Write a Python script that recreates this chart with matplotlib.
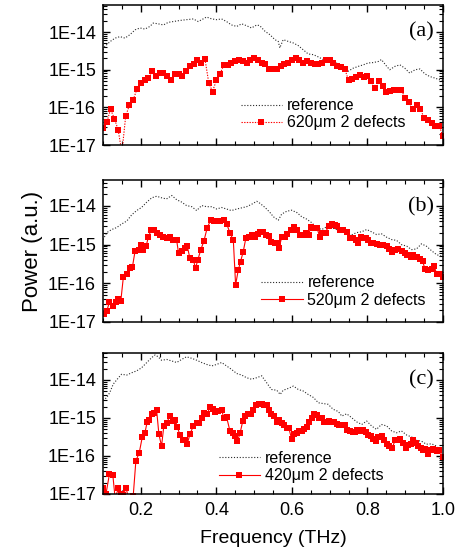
import numpy as np
import matplotlib
matplotlib.use('Agg')
import matplotlib.pyplot as plt
from matplotlib.ticker import LogLocator, FuncFormatter, MultipleLocator, NullFormatter, FixedLocator

plt.rcParams['font.family'] = ['Liberation Sans', 'DejaVu Sans']

# ---------------- data (log10 of power, a.u.) ----------------
# panel (a)
ref_a_f = [0.100, 0.105, 0.119, 0.132, 0.145, 0.158, 0.171, 0.185, 0.198, 0.211, 0.224, 0.233,
           0.246, 0.260, 0.273, 0.286, 0.304, 0.321, 0.339, 0.352, 0.365, 0.374, 0.388, 0.401,
           0.414, 0.427, 0.440, 0.454, 0.467, 0.480, 0.493, 0.507, 0.515, 0.529, 0.542, 0.555,
           0.564, 0.568, 0.577, 0.591, 0.604, 0.617, 0.630, 0.643, 0.657, 0.670, 0.683, 0.696,
           0.709, 0.723, 0.736, 0.749, 0.762, 0.776, 0.789, 0.802, 0.815, 0.829, 0.837, 0.851,
           0.859, 0.873, 0.886, 0.899, 0.912, 0.926, 0.939, 0.952, 0.965, 0.978, 0.992, 1.000]
ref_a_logp = [-14.47, -14.38, -14.25, -14.16, -14.12, -14.16, -14.07, -13.94, -13.89, -13.92, -13.85, -13.76,
              -13.78, -13.81, -13.74, -13.72, -13.69, -13.67, -13.65, -13.72, -13.65, -13.60, -13.65, -13.67,
              -13.65, -13.72, -13.81, -13.85, -13.78, -13.83, -13.89, -13.81, -13.83, -13.98, -14.07, -14.20,
              -14.25, -14.42, -14.20, -14.25, -14.29, -14.36, -14.47, -14.58, -14.60, -14.66, -14.73, -14.73,
              -14.78, -14.85, -14.91, -15.04, -14.96, -14.91, -14.87, -14.82, -14.81, -14.78, -14.73, -14.91,
              -15.00, -14.91, -14.87, -14.96, -15.09, -15.00, -14.98, -15.11, -15.18, -15.22, -15.27, -15.28]

def_a_f = [0.10, 0.11, 0.12, 0.13, 0.14, 0.15, 0.16, 0.17, 0.18, 0.19,
           0.20, 0.21, 0.22, 0.23, 0.24, 0.25, 0.26, 0.27, 0.28, 0.29,
           0.30, 0.31, 0.32, 0.33, 0.34, 0.35, 0.36, 0.37, 0.38, 0.39,
           0.40, 0.41, 0.42, 0.43, 0.44, 0.45, 0.46, 0.47, 0.48, 0.49,
           0.50, 0.51, 0.52, 0.53, 0.54, 0.55, 0.56, 0.57, 0.58, 0.59,
           0.60, 0.61, 0.62, 0.63, 0.64, 0.65, 0.66, 0.67, 0.68, 0.69,
           0.70, 0.71, 0.72, 0.73, 0.74, 0.75, 0.76, 0.77, 0.78, 0.79,
           0.80, 0.81, 0.82, 0.83, 0.84, 0.85, 0.86, 0.87, 0.88, 0.89,
           0.90, 0.91, 0.92, 0.93, 0.94, 0.95, 0.96, 0.97, 0.98, 0.99, 1.00]
def_a_logp = [-16.55, -16.40, -16.05, -16.30, -16.59, -17.20, -16.24, -15.93, -15.80, -15.51,
              -15.35, -15.28, -15.22, -15.04, -15.16, -15.09, -15.09, -15.16, -15.28, -15.11,
              -15.12, -15.16, -15.04, -14.91, -14.84, -14.75, -14.81, -14.72, -15.35, -15.58,
              -15.28, -15.11, -14.87, -14.88, -14.82, -14.78, -14.75, -14.78, -14.81, -14.73,
              -14.69, -14.75, -14.81, -14.84, -14.98, -14.98, -14.97, -14.89, -14.86, -14.82,
              -14.75, -14.69, -14.75, -14.81, -14.78, -14.81, -14.84, -14.84, -14.82, -14.75,
              -14.75, -14.82, -14.89, -14.93, -14.98, -15.28, -15.25, -15.19, -15.13, -15.18,
              -15.16, -15.31, -15.49, -15.31, -15.42, -15.60, -15.57, -15.55, -15.55, -15.55,
              -15.75, -15.87, -16.04, -15.93, -16.04, -16.28, -16.33, -16.42, -16.49, -16.49, -16.77]

# panel (b)
ref_b_f = [0.100, 0.110, 0.123, 0.136, 0.149, 0.163, 0.176, 0.189, 0.202, 0.216, 0.229, 0.242,
           0.255, 0.268, 0.282, 0.295, 0.308, 0.321, 0.335, 0.348, 0.361, 0.374, 0.388, 0.401,
           0.414, 0.427, 0.440, 0.454, 0.467, 0.480, 0.493, 0.507, 0.515, 0.529, 0.542, 0.551,
           0.564, 0.573, 0.586, 0.599, 0.613, 0.626, 0.639, 0.652, 0.665, 0.679, 0.692, 0.705,
           0.718, 0.731, 0.745, 0.758, 0.771, 0.784, 0.798, 0.811, 0.824, 0.837, 0.851, 0.864,
           0.877, 0.890, 0.904, 0.917, 0.930, 0.943, 0.956, 0.970, 0.983, 1.000]
ref_b_logp = [-14.87, -14.69, -14.61, -14.56, -14.47, -14.39, -14.23, -14.12, -14.04, -13.90, -13.79, -13.75,
              -13.79, -13.82, -13.73, -13.84, -13.90, -13.99, -14.02, -14.12, -13.99, -14.02, -14.02, -14.08,
              -14.04, -14.08, -14.12, -14.08, -14.05, -14.02, -13.96, -13.88, -13.93, -14.04, -14.17, -14.28,
              -14.37, -14.21, -14.14, -14.11, -14.17, -14.28, -14.34, -14.43, -14.56, -14.61, -14.54, -14.56,
              -14.61, -14.63, -14.72, -14.75, -14.69, -14.67, -14.61, -14.67, -14.74, -14.72, -14.81, -14.87,
              -14.89, -15.00, -15.04, -15.13, -15.11, -14.98, -15.04, -15.16, -15.26, -15.31]

def_b_f = [0.103, 0.110, 0.117, 0.126, 0.134, 0.141, 0.147, 0.154, 0.163, 0.171, 0.178, 0.185,
           0.194, 0.200, 0.207, 0.214, 0.220, 0.227, 0.235, 0.244, 0.251, 0.260, 0.269, 0.277,
           0.286, 0.295, 0.300, 0.308, 0.317, 0.323, 0.330, 0.339, 0.345, 0.351, 0.359, 0.367,
           0.376, 0.385, 0.394, 0.403, 0.411, 0.420, 0.427, 0.436, 0.445, 0.451, 0.458, 0.464,
           0.471, 0.478, 0.486, 0.494, 0.502, 0.509, 0.516, 0.523, 0.531, 0.539, 0.546, 0.555,
           0.562, 0.566, 0.573, 0.582, 0.588, 0.597, 0.606, 0.613, 0.621, 0.630, 0.637, 0.644,
           0.650, 0.657, 0.667, 0.674, 0.681, 0.689, 0.697, 0.705, 0.714, 0.720, 0.727, 0.736,
           0.745, 0.754, 0.761, 0.770, 0.776, 0.782, 0.789, 0.796, 0.802, 0.809, 0.816, 0.824,
           0.833, 0.842, 0.851, 0.858, 0.866, 0.873, 0.882, 0.891, 0.899, 0.906, 0.914, 0.921,
           0.930, 0.939, 0.946, 0.952, 0.961, 0.970, 0.976, 0.983, 0.992, 1.000]
def_b_logp = [-16.80, -16.71, -16.49, -16.58, -16.49, -16.40, -16.47, -15.83, -15.75, -15.61, -15.57, -15.16,
              -15.13, -15.00, -15.13, -15.04, -14.81, -14.63, -14.63, -14.69, -14.75, -14.81, -14.84, -14.81,
              -14.89, -14.89, -15.22, -15.16, -15.09, -15.04, -15.35, -15.39, -15.61, -15.39, -15.13, -14.91,
              -14.56, -14.37, -14.39, -14.40, -14.39, -14.37, -14.46, -14.69, -14.89, -16.04, -15.66, -15.44,
              -15.19, -14.84, -14.81, -14.75, -14.81, -14.72, -14.67, -14.67, -14.75, -14.78, -14.94, -14.96,
              -14.96, -15.09, -14.81, -14.81, -14.72, -14.63, -14.54, -14.63, -14.75, -14.75, -14.69, -14.75,
              -14.54, -14.56, -14.58, -14.81, -14.69, -14.69, -14.52, -14.47, -14.49, -14.52, -14.63, -14.63,
              -14.67, -14.84, -14.84, -14.89, -14.96, -14.81, -14.84, -14.82, -14.89, -14.96, -14.96, -14.98,
              -15.00, -15.02, -15.04, -15.11, -15.19, -15.13, -15.11, -15.16, -15.22, -15.28, -15.33, -15.26,
              -15.31, -15.37, -15.42, -15.63, -15.66, -15.63, -15.54, -15.75, -15.77, -15.83]

# panel (c)
ref_c_f = [0.100, 0.110, 0.118, 0.127, 0.141, 0.149, 0.163, 0.176, 0.189, 0.202, 0.216, 0.229,
           0.238, 0.246, 0.255, 0.269, 0.282, 0.295, 0.308, 0.321, 0.335, 0.348, 0.361, 0.374,
           0.388, 0.401, 0.414, 0.427, 0.440, 0.454, 0.467, 0.480, 0.493, 0.507, 0.520, 0.533,
           0.546, 0.560, 0.569, 0.577, 0.591, 0.604, 0.617, 0.630, 0.643, 0.657, 0.670, 0.683,
           0.696, 0.709, 0.723, 0.732, 0.745, 0.758, 0.771, 0.785, 0.798, 0.811, 0.824, 0.837,
           0.851, 0.864, 0.877, 0.890, 0.904, 0.917, 0.930, 0.943, 0.956, 0.970, 0.983, 0.992, 1.000]
ref_c_logp = [-14.54, -14.46, -14.33, -14.11, -13.94, -13.85, -13.87, -13.81, -13.76, -13.68, -13.54, -13.41,
              -13.34, -13.39, -13.48, -13.46, -13.50, -13.54, -13.46, -13.39, -13.43, -13.48, -13.54, -13.59,
              -13.63, -13.59, -13.54, -13.63, -13.72, -13.83, -13.87, -13.94, -13.98, -13.94, -13.89, -14.07,
              -14.25, -14.27, -14.38, -14.27, -14.22, -14.16, -14.25, -14.29, -14.38, -14.46, -14.60, -14.62,
              -14.64, -14.77, -14.83, -14.95, -14.89, -14.99, -15.10, -15.17, -15.08, -15.21, -15.30, -15.17,
              -15.21, -15.34, -15.39, -15.34, -15.45, -15.50, -15.59, -15.61, -15.69, -15.68, -15.74, -15.87, -16.26]

def_c_f = [0.101, 0.108, 0.117, 0.126, 0.132, 0.141, 0.147, 0.154, 0.161, 0.167, 0.174, 0.180,
           0.187, 0.196, 0.204, 0.211, 0.217, 0.223, 0.229, 0.235, 0.242, 0.248, 0.255, 0.261,
           0.269, 0.277, 0.284, 0.291, 0.297, 0.304, 0.311, 0.317, 0.323, 0.330, 0.339, 0.348,
           0.355, 0.361, 0.367, 0.376, 0.383, 0.390, 0.396, 0.405, 0.414, 0.420, 0.427, 0.436,
           0.443, 0.449, 0.456, 0.463, 0.470, 0.476, 0.485, 0.491, 0.498, 0.505, 0.513, 0.520,
           0.526, 0.533, 0.539, 0.546, 0.553, 0.560, 0.566, 0.573, 0.579, 0.586, 0.592, 0.599,
           0.606, 0.613, 0.620, 0.626, 0.632, 0.639, 0.646, 0.652, 0.659, 0.666, 0.673, 0.679,
           0.685, 0.692, 0.698, 0.705, 0.711, 0.719, 0.726, 0.732, 0.741, 0.747, 0.754, 0.761,
           0.767, 0.773, 0.780, 0.789, 0.796, 0.802, 0.809, 0.816, 0.823, 0.829, 0.838, 0.844,
           0.851, 0.858, 0.866, 0.873, 0.879, 0.886, 0.893, 0.902, 0.908, 0.914, 0.921, 0.929,
           0.935, 0.941, 0.948, 0.952, 0.961, 0.967, 0.974, 0.983, 0.990, 1.000]
def_c_logp = [-16.85, -16.99, -16.48, -16.50, -17.10, -16.85, -17.01, -17.03, -16.83, -17.10, -17.14, -17.05,
              -16.13, -15.91, -15.50, -15.39, -15.10, -15.06, -14.89, -14.86, -14.80, -15.43, -15.74, -15.21,
              -15.12, -14.95, -15.08, -15.04, -15.25, -15.45, -15.59, -15.59, -15.68, -15.43, -15.21, -15.12,
              -15.12, -14.99, -14.86, -14.90, -14.71, -14.77, -14.83, -14.82, -14.80, -14.99, -14.97, -15.34,
              -15.39, -15.47, -15.61, -15.39, -15.08, -14.95, -14.89, -14.89, -14.80, -14.66, -14.62, -14.62,
              -14.66, -14.66, -14.80, -14.90, -14.95, -15.10, -15.06, -15.12, -15.18, -15.27, -15.27, -15.54,
              -15.43, -15.39, -15.34, -15.34, -15.30, -15.25, -15.10, -14.99, -14.89, -14.92, -14.99, -15.01,
              -15.10, -15.10, -15.08, -15.10, -15.10, -15.17, -15.18, -15.18, -15.18, -15.32, -15.34, -15.36,
              -15.36, -15.32, -15.34, -15.32, -15.36, -15.45, -15.47, -15.54, -15.61, -15.50, -15.47, -15.59,
              -15.69, -15.74, -15.78, -15.59, -15.59, -15.56, -15.65, -15.78, -15.71, -15.68, -15.59, -15.65,
              -15.74, -15.80, -15.85, -15.82, -15.96, -15.85, -15.82, -15.87, -15.85, -16.03]

panel_labels = ['(a)', '(b)', '(c)']
legend_labels = ['620\u03bcm 2 defects', '520\u03bcm 2 defects', '420\u03bcm 2 defects']
x_ticks = [0.2, 0.4, 0.6, 0.8, 1.0]
y_ticks = [1e-17, 1e-16, 1e-15, 1e-14]

panels = [
    (ref_a_f, ref_a_logp, def_a_f, def_a_logp),
    (ref_b_f, ref_b_logp, def_b_f, def_b_logp),
    (ref_c_f, ref_c_logp, def_c_f, def_c_logp),
]

# ---------------- layout ----------------
W, H = 461, 556
fig = plt.figure(figsize=(W / 100, H / 100), dpi=100)
rects = [(103, 5, 443, 145), (103, 180, 443, 322), (103, 353, 443, 494)]
ytops = [10 ** -13.28, 10 ** -13.33, 10 ** -13.29]
leg_pos = [(0.405, 0.335), (0.465, 0.330), (0.340, 0.305)]
red_styles = [(0, (1.2, 1.2)), '-', '-']

fmt = FuncFormatter(lambda v, p: '1E%d' % int(round(np.log10(v))))

axes = []
for i, ((x0, y0, x1, y1), (rf, rl, df, dl)) in enumerate(zip(rects, panels)):
    ax = fig.add_axes([x0 / W, 1 - y1 / H, (x1 - x0) / W, (y1 - y0) / H])
    axes.append(ax)
    ax.set_yscale('log')
    l1, = ax.plot(rf, np.power(10.0, rl), color='#2a2a2a', lw=0.8,
                  linestyle=(0, (1, 1.6)), label='reference')
    l2, = ax.plot(df, np.power(10.0, dl), color='#ff0000', lw=0.8,
                  linestyle=red_styles[i], marker='s', markersize=4.0,
                  markeredgewidth=0, label=legend_labels[i])
    ax.set_xlim(0.1, 1.0)
    ax.set_ylim(1e-17, ytops[i])
    ax.yaxis.set_major_locator(FixedLocator(y_ticks))
    ax.yaxis.set_minor_locator(LogLocator(base=10, subs=np.arange(2, 10), numticks=20))
    ax.yaxis.set_major_formatter(fmt)
    ax.yaxis.set_minor_formatter(NullFormatter())
    ax.set_xticks(x_ticks)
    ax.xaxis.set_minor_locator(MultipleLocator(0.05))
    ax.tick_params(which='both', direction='in', top=True, right=True, labelsize=13)
    ax.tick_params(which='major', length=5, width=1.0)
    ax.tick_params(which='minor', length=3, width=0.8)
    ax.tick_params(axis='y', pad=5)
    ax.tick_params(axis='x', pad=6)
    if i < 2:
        ax.tick_params(axis='x', labelbottom=False)
    for s in ax.spines.values():
        s.set_linewidth(1.1)
    ax.text(0.935, 0.81, panel_labels[i], transform=ax.transAxes, ha='center', va='center',
            fontsize=16, family=['Liberation Serif', 'DejaVu Serif'])
    ax.legend(handles=[l1, l2], loc='upper left', bbox_to_anchor=leg_pos[i], frameon=False,
              borderpad=0, borderaxespad=0, handlelength=2.6, handletextpad=0.3,
              labelspacing=0.15, fontsize=11.5, numpoints=1)

axes[1].set_ylabel('Power (a.u.)', fontsize=16, labelpad=4)
axes[2].set_xlabel('Frequency (THz)', fontsize=14, labelpad=8)

fig.savefig('out.png', dpi=100)
